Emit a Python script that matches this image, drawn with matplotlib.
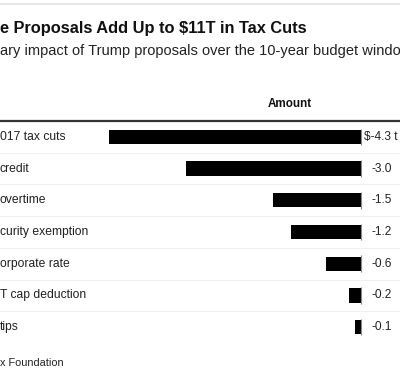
import numpy as np
import matplotlib
matplotlib.use("Agg")
import matplotlib.pyplot as plt
from matplotlib import rcParams

rcParams['font.family'] = ['Liberation Sans', 'DejaVu Sans']

# ----------------------------------------------------------------------
#                               data
# ----------------------------------------------------------------------
labels = ["017 tax cuts", "credit", "overtime", "curity exemption",
          "orporate rate", "T cap deduction", "tips"]
values = [-4.3, -3.0, -1.5, -1.2, -0.6, -0.2, -0.1]
value_text = ["$-4.3 t", "-3.0", "-1.5", "-1.2", "-0.6", "-0.2", "-0.1"]

title = "e Proposals Add Up to $11T in Tax Cuts"
subtitle = "ary impact of Trump proposals over the 10-year budget windo"
source = "x Foundation"

# ----------------------------------------------------------------------
#                              figure
# ----------------------------------------------------------------------
W, H = 400, 382
fig = plt.figure(figsize=(W / 100, H / 100), dpi=100)

def fy(py):
    return 1 - py / H

# top grey rule
fig.add_artist(plt.Line2D([0, 1], [fy(4), fy(4)], color='#e2e2e2', lw=1.2))

fig.text(0.0, fy(28), title, fontsize=11.8, fontweight='bold', va='center', ha='left', color='#111111')
fig.text(0.0, fy(51), subtitle, fontsize=10.5, va='center', ha='left', color='#222222')
fig.text(290 / W, fy(104), "Amount", fontsize=8.4, fontweight='bold', va='center', ha='center', color='#111111')
fig.text(0.0, fy(363), source, fontsize=7.8, va='center', ha='left', color='#222222')

# bar axes: zero at x=361 px, ~58.5 px per unit
zero_px, ppu = 361, 58.5
top_px, bot_px = 121, 343
ax = fig.add_axes([0, fy(bot_px), 1, (bot_px - top_px) / H])
ax.set_xlim(-zero_px / ppu, (W - zero_px) / ppu)
n = len(values)
ax.set_ylim(n - 0.5, -0.5)
ax.axis('off')

y = np.arange(n)
ax.barh(y, values, height=0.45, color='black', zorder=3)
ax.vlines(np.zeros(n), y - 0.26, y + 0.26, color='#888888', lw=0.8, zorder=4)

for i in range(n):
    ax.axhline(i + 0.5, color='#f0f0f0', lw=0.8, zorder=1)
ax.axhline(-0.5, color='#333333', lw=1.6, zorder=5, clip_on=False)

for i, (lab, txt) in enumerate(zip(labels, value_text)):
    ax.text(0.0, i, lab, transform=ax.get_yaxis_transform(), fontsize=8.7,
            va='center', ha='left', color='#222222')
    xo = 3 / ppu if txt.startswith('$') else 11 / ppu
    ax.text(xo, i, txt, fontsize=8.6, va='center', ha='left', color='#222222')

fig.savefig("out.png", dpi=100)
